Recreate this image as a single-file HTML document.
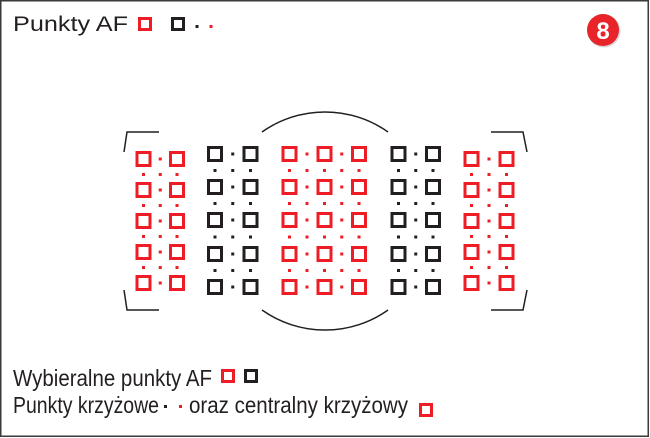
<!DOCTYPE html>
<html><head><meta charset="utf-8"><style>
html,body{margin:0;padding:0;background:#fff;}
svg{display:block;}
text{font-family:"Liberation Sans",sans-serif;fill:#231f20;}
</style></head><body>
<svg id="s" width="650" height="438" viewBox="0 0 650 438" xmlns="http://www.w3.org/2000/svg">
<rect x="0.75" y="0.75" width="647.5" height="435.5" fill="#fff" stroke="#3a3a3a" stroke-width="1.5"/>
<text x="13" y="31" font-size="21" textLength="115" lengthAdjust="spacingAndGlyphs">Punkty AF</text>
<rect x="139.5" y="18.5" width="11" height="11" fill="none" stroke="#ee1c25" stroke-width="3"/>
<rect x="172.5" y="18.5" width="11" height="11" fill="none" stroke="#231f20" stroke-width="3"/>
<rect x="195.5" y="25" width="3" height="3" fill="#231f20"/>
<rect x="209.5" y="25" width="3" height="3" fill="#ee1c25"/>
<circle cx="604" cy="31" r="16.5" fill="#b0b0b0" opacity="0.5"/>
<circle cx="603" cy="30" r="16" fill="#e8232a"/>
<text x="603" y="39" font-size="24" font-weight="bold" text-anchor="middle" style="fill:#fff">8</text>
<g fill="none" stroke="#231f20" stroke-width="1.5">
<path d="M159 132 L127 132 L124 152"/>
<path d="M159 310 L127 310 L124 290"/>
<path d="M491 132 L523 132 L527 152"/>
<path d="M491 310 L523 310 L527 290"/>
<path d="M262 132 A109 109 0 0 1 388 132"/>
<path d="M262 310 A109 109 0 0 0 388 310"/>
</g>
<g id="g"></g>
<text x="13" y="386" font-size="23" textLength="199" lengthAdjust="spacingAndGlyphs">Wybieralne punkty AF</text>
<rect x="222.5" y="370.5" width="11" height="11" fill="none" stroke="#ee1c25" stroke-width="3"/>
<rect x="245.5" y="370.5" width="11" height="11" fill="none" stroke="#231f20" stroke-width="3"/>
<text x="13" y="413" font-size="23" textLength="146" lengthAdjust="spacingAndGlyphs">Punkty krzyżowe</text>
<rect x="164" y="405" width="3" height="3" fill="#231f20"/>
<rect x="179" y="405" width="3" height="3" fill="#ee1c25"/>
<text x="189" y="413" font-size="23" textLength="219" lengthAdjust="spacingAndGlyphs">oraz centralny krzyżowy</text>
<rect x="420.5" y="404.5" width="11" height="11" fill="none" stroke="#ee1c25" stroke-width="3"/>
</svg>
<script>
var R="#ee1c25",K="#231f20",g=document.getElementById("g"),h="";
function grp(xs,ys,c){
  for(var i=0;i<ys.length;i++){
    for(var j=0;j<xs.length;j++){
      h+='<rect x="'+(xs[j]-6.5)+'" y="'+(ys[i]-6.5)+'" width="13" height="13" fill="none" stroke="'+c+'" stroke-width="3"/>';
      if(j<xs.length-1){var mx=(xs[j]+xs[j+1])/2;h+='<rect x="'+(mx-1.5)+'" y="'+(ys[i]-1.5)+'" width="3" height="3" fill="'+c+'"/>';}
    }
    if(i<ys.length-1){var my=(ys[i]+ys[i+1])/2;
      for(var j=0;j<xs.length;j++){
        h+='<rect x="'+(xs[j]-1.5)+'" y="'+(my-1.5)+'" width="3" height="3" fill="'+c+'"/>';
        if(j<xs.length-1){var mx=(xs[j]+xs[j+1])/2;h+='<rect x="'+(mx-1.5)+'" y="'+(my-1.5)+'" width="3" height="3" fill="'+c+'"/>';}
      }
    }
  }
}
var yo=[159,190,221,252,283],yi=[154,187,220,254,287];
grp([143.5,177],yo,R);
grp([215,250.5],yi,K);
grp([289.5,324.5,359],yi,R);
grp([398.5,433],yi,K);
grp([471.5,506.5],yo,R);
g.innerHTML=h;
</script>
</body></html>
